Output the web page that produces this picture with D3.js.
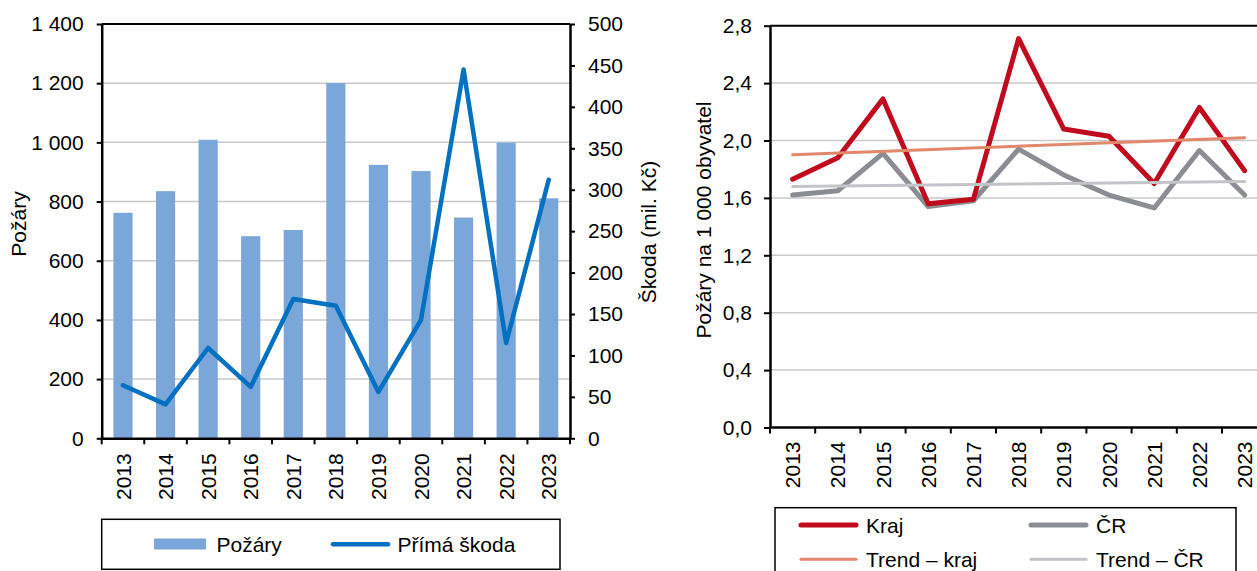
<!DOCTYPE html>
<html>
<head>
<meta charset="utf-8">
<script src="https://cdn.jsdelivr.net/npm/d3@7"></script>
<style>
  body { margin: 0; background: #fff; }
  svg text { font-family: "Liberation Sans", Arial, sans-serif; fill: #000; }
</style>
</head>
<body>
<div id="chart"></div>
<script>
// data
var years = ["2013", "2014", "2015", "2016", "2017", "2018", "2019", "2020", "2021", "2022", "2023"]
var pozary = [762, 835, 1009, 683, 704, 1200, 924, 903, 746, 999, 811]
var skoda = [64, 41, 109, 62, 168, 160, 56, 143, 445, 115, 312]

var kraj = [1.73, 1.88, 2.29, 1.56, 1.59, 2.71, 2.08, 2.03, 1.70, 2.23, 1.79]
var cr = [1.62, 1.65, 1.91, 1.54, 1.58, 1.94, 1.76, 1.62, 1.53, 1.93, 1.62]
var trendYears = ["2013", "2023"]
var trendKraj = [1.90, 2.02]
var trendCr = [1.68, 1.715]

var leftTicks = [0, 200, 400, 600, 800, 1000, 1200, 1400]
var rightTicks = [0, 50, 100, 150, 200, 250, 300, 350, 400, 450, 500]
var rateTicks = [0, 0.4, 0.8, 1.2, 1.6, 2.0, 2.4, 2.8]

var svg = d3.select("#chart").append("svg")
    .attr("width", 1257)
    .attr("height", 571)

var fontSize = "21px"
var gridColor = "#c8c8c8"

// ---------- left chart ----------
var L = { left: 101.7, right: 570, top: 24, bottom: 438.3 }

var xL = d3.scaleBand()
    .domain(years)
    .range([L.left, L.right])
    .paddingInner(0.55)
    .paddingOuter(0.275)

var yPoz = d3.scaleLinear().domain([0, 1400]).range([L.bottom, L.top])
var ySk = d3.scaleLinear().domain([0, 500]).range([L.bottom, L.top])

var left = svg.append("g")

left.selectAll(".grid")
    .data(leftTicks.slice(1, -1))
    .enter().append("line")
    .attr("x1", L.left).attr("x2", L.right)
    .attr("y1", function(d) { return yPoz(d) })
    .attr("y2", function(d) { return yPoz(d) })
    .attr("stroke", gridColor)
    .attr("stroke-width", 1.5)

left.selectAll(".bar")
    .data(years)
    .enter().append("rect")
    .attr("x", function(d) { return xL(d) })
    .attr("width", xL.bandwidth())
    .attr("y", function(d, i) { return yPoz(pozary[i]) })
    .attr("height", function(d, i) { return L.bottom - yPoz(pozary[i]) })
    .attr("fill", "#7ba6d9")

// top frame
left.append("line")
    .attr("x1", L.left).attr("x2", L.right)
    .attr("y1", L.top).attr("y2", L.top)
    .attr("stroke", "#000").attr("stroke-width", 2)

var skLine = d3.line()
    .x(function(d, i) { return xL(years[i]) + xL.bandwidth() / 2 })
    .y(function(d) { return ySk(d) })

left.append("path")
    .datum(skoda)
    .attr("d", skLine)
    .attr("fill", "none")
    .attr("stroke", "#0070c0")
    .attr("stroke-width", 4.5)
    .attr("stroke-linejoin", "round")
    .attr("stroke-linecap", "round")

function fmtSpace(d) {
  return d3.format(",")(d).replace(/,/g, "\u00a0")
}

function styleAxis(g) {
  g.select(".domain").attr("stroke", "#000").attr("stroke-width", 2.5)
  g.selectAll(".tick line").attr("stroke", "#000").attr("stroke-width", 2)
  g.selectAll("text").style("font-size", fontSize).attr("fill", "#000")
}

left.append("g")
    .attr("transform", "translate(" + L.left + ",0)")
    .call(d3.axisLeft(yPoz).tickValues(leftTicks).tickFormat(fmtSpace).tickSize(5).tickSizeOuter(0).tickPadding(13))
    .call(styleAxis)

left.append("g")
    .attr("transform", "translate(" + L.right + ",0)")
    .call(d3.axisRight(ySk).tickValues(rightTicks).tickSize(5).tickSizeOuter(0).tickPadding(13))
    .call(styleAxis)

// x axis: labels at category centres, ticks at boundaries
var xAxL = left.append("g")
    .attr("transform", "translate(0," + L.bottom + ")")
    .call(d3.axisBottom(xL).tickSize(0).tickSizeOuter(0))
    .call(styleAxis)
xAxL.selectAll("text")
    .attr("transform", "rotate(-90)")
    .attr("text-anchor", "end")
    .attr("x", -15).attr("y", 0).attr("dy", "0.36em")

left.selectAll(".xtick")
    .data(d3.range(years.length + 1))
    .enter().append("line")
    .attr("x1", function(i) { return L.left + i * xL.step() })
    .attr("x2", function(i) { return L.left + i * xL.step() })
    .attr("y1", L.bottom).attr("y2", L.bottom + 6)
    .attr("stroke", "#000").attr("stroke-width", 2)

left.append("text")
    .text("Požáry")
    .attr("transform", "translate(26,224) rotate(-90)")
    .attr("text-anchor", "middle")
    .style("font-size", fontSize)

left.append("text")
    .text("Škoda (mil. Kč)")
    .attr("transform", "translate(656,232) rotate(-90)")
    .attr("text-anchor", "middle")
    .style("font-size", fontSize)

// left legend
var legL = left.append("g")
legL.append("rect")
    .attr("x", 101.7).attr("y", 519.3).attr("width", 458.3).attr("height", 50)
    .attr("fill", "none").attr("stroke", "#000").attr("stroke-width", 1.5)
legL.append("rect")
    .attr("x", 154).attr("y", 538.5).attr("width", 52).attr("height", 11)
    .attr("fill", "#7ba6d9")
legL.append("text").text("Požáry")
    .attr("x", 216.5).attr("y", 551.5).style("font-size", fontSize)
legL.append("line")
    .attr("x1", 333).attr("x2", 388).attr("y1", 544.3).attr("y2", 544.3)
    .attr("stroke", "#0070c0").attr("stroke-width", 4.5).attr("stroke-linecap", "round")
legL.append("text").text("Přímá škoda")
    .attr("x", 397.5).attr("y", 551.5).style("font-size", fontSize)

// ---------- right chart ----------
var R = { left: 770, step: 45.2, top: 25.7, bottom: 427.5 }

var xR = d3.scaleBand()
    .domain(years)
    .range([R.left, R.left + R.step * years.length])

var yR = d3.scaleLinear().domain([0, 2.8]).range([R.bottom, R.top])

var right = svg.append("g")

right.selectAll(".grid")
    .data(rateTicks.slice(1, -1))
    .enter().append("line")
    .attr("x1", R.left).attr("x2", R.left + R.step * years.length)
    .attr("y1", function(d) { return yR(d) })
    .attr("y2", function(d) { return yR(d) })
    .attr("stroke", gridColor)
    .attr("stroke-width", 1.5)

right.append("line")
    .attr("x1", R.left).attr("x2", R.left + R.step * years.length)
    .attr("y1", R.top).attr("y2", R.top)
    .attr("stroke", "#000").attr("stroke-width", 2)

var rateLine = d3.line()
    .x(function(d) { return xR(d.year) + xR.bandwidth() / 2 })
    .y(function(d) { return yR(d.value) })

function pts(ys, vals) {
  return ys.map(function(y, i) { return { year: y, value: vals[i] } })
}

var series = [
  { data: pts(years, cr), color: "#8a8d91", width: 5 },
  { data: pts(years, kraj), color: "#c00a1e", width: 5 },
  { data: pts(trendYears, trendKraj), color: "#e0876c", width: 3 },
  { data: pts(trendYears, trendCr), color: "#c2c4c8", width: 3 }
]

right.selectAll(".series")
    .data(series)
    .enter().append("path")
    .attr("d", function(d) { return rateLine(d.data) })
    .attr("fill", "none")
    .attr("stroke", function(d) { return d.color })
    .attr("stroke-width", function(d) { return d.width })
    .attr("stroke-linejoin", "round")
    .attr("stroke-linecap", "round")

right.append("g")
    .attr("transform", "translate(" + R.left + ",0)")
    .call(d3.axisLeft(yR).tickValues(rateTicks)
      .tickFormat(function(d) { return d3.format(".1f")(d).replace(".", ",") })
      .tickSize(6).tickSizeOuter(0).tickPadding(12))
    .call(styleAxis)

var xAxR = right.append("g")
    .attr("transform", "translate(0," + R.bottom + ")")
    .call(d3.axisBottom(xR).tickSize(0).tickSizeOuter(0))
    .call(styleAxis)
xAxR.select(".domain").attr("d", "M" + R.left + ",0H" + (R.left + R.step * years.length))
xAxR.selectAll("text")
    .attr("transform", "rotate(-90)")
    .attr("text-anchor", "end")
    .attr("x", -14).attr("y", 0).attr("dy", "0.36em")

right.selectAll(".xtick")
    .data(d3.range(years.length + 1))
    .enter().append("line")
    .attr("x1", function(i) { return R.left + i * xR.step() })
    .attr("x2", function(i) { return R.left + i * xR.step() })
    .attr("y1", R.bottom).attr("y2", R.bottom + 6)
    .attr("stroke", "#000").attr("stroke-width", 2)

right.append("text")
    .text("Požáry na 1 000 obyvatel")
    .attr("transform", "translate(711,220) rotate(-90)")
    .attr("text-anchor", "middle")
    .style("font-size", fontSize)

// right legend
var legR = right.append("g")
legR.append("rect")
    .attr("x", 775).attr("y", 507.7).attr("width", 461).attr("height", 80)
    .attr("fill", "none").attr("stroke", "#000").attr("stroke-width", 1.5)

var legItems = [
  { label: "Kraj", color: "#c00a1e", width: 5, x: 801, y: 525 },
  { label: "ČR", color: "#8a8d91", width: 5, x: 1031, y: 525 },
  { label: "Trend – kraj", color: "#e0876c", width: 3, x: 801, y: 559.3 },
  { label: "Trend – ČR", color: "#c2c4c8", width: 3, x: 1031, y: 559.3 }
]

legItems.forEach(function(it) {
  legR.append("line")
      .attr("x1", it.x).attr("x2", it.x + 55)
      .attr("y1", it.y).attr("y2", it.y)
      .attr("stroke", it.color).attr("stroke-width", it.width)
      .attr("stroke-linecap", "round")
  legR.append("text").text(it.label)
      .attr("x", it.x + 65).attr("y", it.y + 7.5)
      .style("font-size", fontSize)
})
</script>
</body>
</html>
